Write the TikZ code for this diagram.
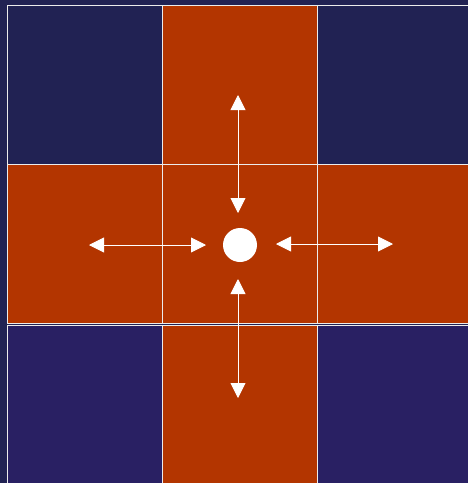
\documentclass[tikz,border=0pt]{standalone}
\usepackage{tikz}
\usetikzlibrary{positioning,arrows.meta}
\usepackage{xcolor}
\definecolor{navytop}{HTML}{212253}
\definecolor{navybot}{HTML}{292063}
\definecolor{brick}{HTML}{B33500}
\tikzset{
  cellbox/.style={draw=white!85!gray,line width=1pt,minimum width=155pt,minimum height=159pt,inner sep=0pt,outer sep=0pt},
  moveline/.style={white,line width=0.9pt,{Triangle[length=15pt,width=15pt]}-{Triangle[length=15pt,width=15pt]}}
}

\begin{document}
\begin{tikzpicture}[x=1pt,y=-1pt]
\fill[navytop] (0,0) rectangle (468,483);
\useasboundingbox (0,0) rectangle (468,483);
% top row
\node[cellbox,fill=navytop] (nw) at (84.5,84.5) {};
\node[cellbox,fill=brick] (n) at (239.5,84.5) {};
\node[cellbox,fill=navytop] (ne) at (394.5,84.5) {};
% middle row
\node[cellbox,fill=brick] (w) at (84.5,243.5) {};
\node[cellbox,fill=brick] (c) at (239.5,243.5) {};
\node[cellbox,fill=brick] (e) at (394.5,243.5) {};
% bottom row
\node[cellbox,fill=navybot] (sw) at (84.5,404.5) {};
\node[cellbox,fill=brick] (s) at (239.5,404.5) {};
\node[cellbox,fill=navybot] (se) at (394.5,404.5) {};
% piece and its moves
\node[circle,fill=white,minimum size=34pt,inner sep=0pt] (piece) at (240,245) {};
\coordinate (up1) at (238,95);   \coordinate (up2) at (238,213);
\coordinate (lf1) at (89,245);   \coordinate (lf2) at (206,245);
\coordinate (rt1) at (276,244);  \coordinate (rt2) at (393,244);
\coordinate (dn1) at (238,279);  \coordinate (dn2) at (238,398);
\foreach \a/\b in {up1/up2,lf1/lf2,rt1/rt2,dn1/dn2}
  \draw[moveline] (\a) -- (\b);
\end{tikzpicture}
\end{document}
